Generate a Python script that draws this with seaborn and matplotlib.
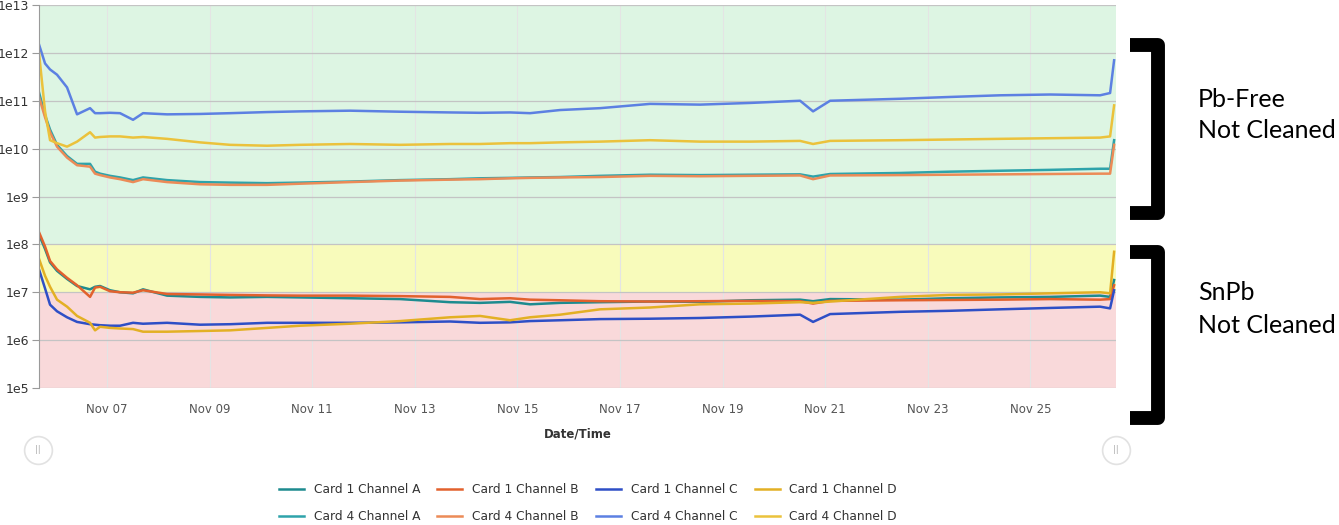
import pandas as pd
import matplotlib
matplotlib.use('Agg')
import matplotlib.pyplot as plt
import matplotlib.dates as mdates
from matplotlib.lines import Line2D
import seaborn as sns

# Sample times
times = ['2015-11-05 16:10', '2015-11-05 19:00', '2015-11-05 21:20', '2015-11-06 00:36',
         '2015-11-06 05:17', '2015-11-06 09:58', '2015-11-06 16:03', '2015-11-06 18:23',
         '2015-11-06 20:44', '2015-11-07 01:24', '2015-11-07 06:05', '2015-11-07 12:10',
         '2015-11-07 16:50', '2015-11-08 04:04', '2015-11-08 19:31', '2015-11-09 09:33',
         '2015-11-10 02:51', '2015-11-10 18:17', '2015-11-11 17:41', '2015-11-12 17:05',
         '2015-11-13 16:28', '2015-11-14 06:30', '2015-11-14 20:32', '2015-11-15 05:54',
         '2015-11-15 19:56', '2015-11-16 14:39', '2015-11-17 14:02', '2015-11-18 13:26',
         '2015-11-19 12:49', '2015-11-20 12:13', '2015-11-20 18:17', '2015-11-21 02:15',
         '2015-11-22 11:00', '2015-11-23 10:23', '2015-11-24 09:47', '2015-11-25 09:10',
         '2015-11-26 08:34', '2015-11-26 13:14', '2015-11-26 15:07']

# SnPb boards (Card 1)
card1_a = [1.6e8, 8e7, 4.2e7, 2.8e7, 1.9e7, 1.35e7, 1.15e7, 1.3e7, 1.35e7, 1.1e7, 1.0e7, 9.5e6, 1.15e7,
           8.5e6, 8.0e6, 7.8e6, 8.0e6, 7.8e6, 7.5e6, 7.2e6, 6.2e6, 6.0e6, 6.3e6, 5.6e6, 6.0e6, 6.2e6,
           6.4e6, 6.3e6, 6.8e6, 7.0e6, 6.5e6, 7.2e6, 7.0e6, 7.5e6, 7.8e6, 8.0e6, 8.5e6, 8.0e6, 1.8e7]
card1_b = [1.8e8, 9e7, 4.5e7, 3.0e7, 2.0e7, 1.4e7, 8e6, 1.25e7, 1.3e7, 1.05e7, 1.0e7, 9.8e6, 1.1e7,
           9.2e6, 9.0e6, 8.8e6, 8.6e6, 8.5e6, 8.5e6, 8.3e6, 8.0e6, 7.2e6, 7.5e6, 7.0e6, 6.8e6, 6.5e6,
           6.4e6, 6.5e6, 6.6e6, 6.5e6, 5.8e6, 6.6e6, 6.8e6, 6.9e6, 7.0e6, 7.2e6, 7.0e6, 7.2e6, 1.4e7]
card1_c = [3e7, 1.2e7, 5.5e6, 4.0e6, 3.0e6, 2.4e6, 2.15e6, 2.1e6, 2.05e6, 2.0e6, 2.0e6, 2.3e6, 2.2e6,
           2.3e6, 2.1e6, 2.15e6, 2.3e6, 2.3e6, 2.3e6, 2.35e6, 2.45e6, 2.3e6, 2.35e6, 2.5e6, 2.6e6, 2.75e6,
           2.8e6, 2.9e6, 3.1e6, 3.4e6, 2.4e6, 3.5e6, 3.9e6, 4.1e6, 4.4e6, 4.7e6, 5.0e6, 4.6e6, 1.1e7]
card1_d = [5e7, 2.2e7, 1.3e7, 7e6, 5e6, 3.2e6, 2.3e6, 1.6e6, 1.9e6, 1.8e6, 1.75e6, 1.7e6, 1.5e6,
           1.5e6, 1.55e6, 1.6e6, 1.8e6, 2.0e6, 2.2e6, 2.5e6, 3.0e6, 3.2e6, 2.6e6, 3.0e6, 3.4e6, 4.4e6,
           4.8e6, 5.6e6, 5.8e6, 6.2e6, 6.0e6, 6.4e6, 8.0e6, 8.8e6, 9.0e6, 9.5e6, 1.0e7, 9.5e6, 7e7]

# Pb-free boards (Card 4)
card4_a = [1.5e11, 5e10, 2.5e10, 1.2e10, 7e9, 4.8e9, 4.8e9, 3.3e9, 3.0e9, 2.7e9, 2.5e9, 2.2e9, 2.5e9,
           2.2e9, 2.0e9, 1.95e9, 1.9e9, 1.95e9, 2.05e9, 2.2e9, 2.3e9, 2.4e9, 2.45e9, 2.5e9, 2.55e9, 2.7e9,
           2.85e9, 2.8e9, 2.85e9, 2.9e9, 2.6e9, 2.95e9, 3.1e9, 3.3e9, 3.45e9, 3.6e9, 3.8e9, 3.8e9, 1.5e10]
card4_b = [1.2e11, 4.5e10, 2.2e10, 1.1e10, 6.5e9, 4.5e9, 4.2e9, 3.0e9, 2.8e9, 2.5e9, 2.3e9, 2.0e9, 2.3e9,
           2.0e9, 1.8e9, 1.75e9, 1.75e9, 1.85e9, 2.0e9, 2.15e9, 2.25e9, 2.3e9, 2.4e9, 2.45e9, 2.5e9, 2.55e9,
           2.7e9, 2.65e9, 2.7e9, 2.75e9, 2.3e9, 2.75e9, 2.8e9, 2.85e9, 2.9e9, 2.95e9, 3.0e9, 3.0e9, 1.2e10]
card4_c = [1.5e12, 6e11, 4.5e11, 3.5e11, 1.9e11, 5.2e10, 7e10, 5.5e10, 5.5e10, 5.6e10, 5.5e10, 4.0e10, 5.5e10,
           5.2e10, 5.3e10, 5.5e10, 5.8e10, 6.0e10, 6.2e10, 5.9e10, 5.7e10, 5.6e10, 5.7e10, 5.5e10, 6.4e10, 7.0e10,
           8.6e10, 8.3e10, 9.0e10, 1.0e11, 6.0e10, 1.0e11, 1.1e11, 1.2e11, 1.3e11, 1.35e11, 1.3e11, 1.45e11, 7e11]
card4_d = [1e12, 6e10, 1.5e10, 1.3e10, 1.1e10, 1.4e10, 2.2e10, 1.7e10, 1.75e10, 1.8e10, 1.8e10, 1.7e10, 1.75e10,
           1.6e10, 1.35e10, 1.2e10, 1.15e10, 1.2e10, 1.25e10, 1.2e10, 1.25e10, 1.25e10, 1.3e10, 1.3e10, 1.35e10, 1.4e10,
           1.5e10, 1.4e10, 1.4e10, 1.45e10, 1.25e10, 1.45e10, 1.5e10, 1.55e10, 1.6e10, 1.65e10, 1.7e10, 1.8e10, 8e10]

series = {
    'Card 1 Channel A': card1_a, 'Card 4 Channel A': card4_a,
    'Card 1 Channel B': card1_b, 'Card 4 Channel B': card4_b,
    'Card 1 Channel C': card1_c, 'Card 4 Channel C': card4_c,
    'Card 1 Channel D': card1_d, 'Card 4 Channel D': card4_d,
}
colors = {
    'Card 1 Channel A': '#1d8b8f', 'Card 4 Channel A': '#2ea3aa',
    'Card 1 Channel B': '#e2612d', 'Card 4 Channel B': '#ec8b57',
    'Card 1 Channel C': '#2e4fc6', 'Card 4 Channel C': '#5c80e2',
    'Card 1 Channel D': '#e3b024', 'Card 4 Channel D': '#ebc23c',
}

ytick_vals = [1e5, 1e6, 1e7, 1e8, 1e9, 1e10, 1e11, 1e12, 1e13]
ytick_labels = ['1e5', '1e6', '1e7', '1e8', '1e9', '1e10', '1e11', '1e12', '1e13']

# long table for seaborn
frames = []
for name, vals in series.items():
    frames.append(pd.DataFrame({'Date/Time': pd.to_datetime(times), 'Value': vals, 'Series': name}))
df = pd.concat(frames, ignore_index=True)

plt.rcParams['font.family'] = ['DejaVu Sans']
fig = plt.figure(figsize=(13.39, 5.25), dpi=100)
ax = fig.add_axes([39 / 1339, 137 / 525, 1077 / 1339, 383 / 525])

# quality bands
ax.axhspan(1e8, 1e13, color='#ddf5e3', lw=0)
ax.axhspan(1e7, 1e8, color='#f8fbbb', lw=0)
ax.axhspan(1e5, 1e7, color='#f9d9da', lw=0)

sns.lineplot(data=df, x='Date/Time', y='Value', hue='Series', hue_order=list(series.keys()),
             palette=colors, linewidth=1.8, ax=ax)

ax.set_yscale('log')
ax.set_ylim(1e5, 1e13)
ax.set_xlim(pd.Timestamp('2015-11-05 16:10'), pd.Timestamp('2015-11-26 16:00'))
ax.set_yticks(ytick_vals)
ax.set_yticklabels(ytick_labels)
ax.yaxis.set_minor_locator(matplotlib.ticker.NullLocator())
ax.xaxis.set_major_locator(mdates.DayLocator(bymonthday=range(7, 26, 2)))
ax.xaxis.set_major_formatter(mdates.DateFormatter('%b %d'))

ax.set_axisbelow('line')
ax.grid(axis='y', color='#c4c4c4', lw=0.9)
ax.grid(axis='x', color='#e4e4e4', lw=0.8)
for s in ['top', 'right', 'bottom']:
    ax.spines[s].set_visible(False)
ax.spines['left'].set_color('#9a9a9a')
ax.tick_params(axis='y', length=5, color='#9a9a9a', labelsize=9, labelcolor='#333333', pad=2)
ax.tick_params(axis='x', length=0, labelsize=8.5, labelcolor='#555555', pad=11)
ax.set_xlabel('Date/Time', fontsize=8.5, fontweight='bold', color='#333333', labelpad=8)
ax.set_ylabel('')

sns.move_legend(ax, loc='center', bbox_to_anchor=(588 / 1339, 1 - 503 / 525),
                bbox_transform=fig.transFigure, ncol=4, frameon=False, title=None,
                fontsize=8.8, handlelength=2.05, columnspacing=1.4, labelspacing=1.15)
for t in ax.get_legend().get_texts():
    t.set_color('#333333')

# range slider handles
for hx in [38, 1116]:
    fig.add_artist(Line2D([hx / 1339], [1 - 450 / 525], transform=fig.transFigure, marker='o',
                          markersize=20, markerfacecolor='white', markeredgecolor='#e2e2e2', mew=1.2))
    fig.text(hx / 1339, 1 - 450 / 525, '||', ha='center', va='center', fontsize=6, color='#b0b0b0')

# brackets on the right
for y0, y1 in [(45, 213), (252, 418)]:
    fig.add_artist(Line2D([1130 / 1339, 1158 / 1339, 1158 / 1339, 1130 / 1339],
                          [1 - y0 / 525, 1 - y0 / 525, 1 - y1 / 525, 1 - y1 / 525],
                          transform=fig.transFigure, color='black', lw=10,
                          solid_joinstyle='round', solid_capstyle='butt'))

fig.text(1198 / 1339, 1 - 107 / 525, 'Pb-Free', fontsize=18, family='Lato', va='baseline')
fig.text(1198 / 1339, 1 - 138 / 525, 'Not Cleaned', fontsize=18, family='Lato', va='baseline')
fig.text(1198 / 1339, 1 - 300 / 525, 'SnPb', fontsize=18, family='Lato', va='baseline')
fig.text(1198 / 1339, 1 - 333 / 525, 'Not Cleaned', fontsize=18, family='Lato', va='baseline')

fig.savefig('out.png', dpi=100)
